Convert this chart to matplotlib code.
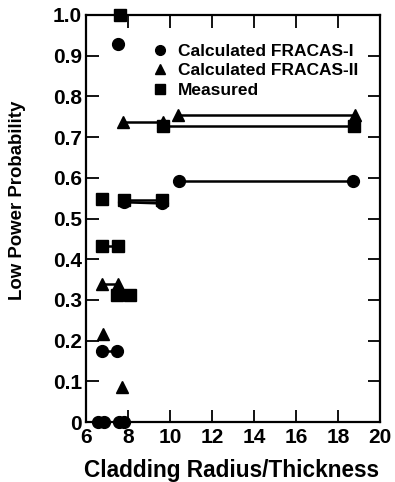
import matplotlib
matplotlib.use('Agg')
import matplotlib.pyplot as plt
from matplotlib.lines import Line2D

plt.rcParams['font.family'] = ['Liberation Sans', 'DejaVu Sans']
plt.rcParams['font.weight'] = 'bold'

# FRACAS-I calculated (circles): lone points, then joined pairs
frac1_x = [7.54, 6.59, 6.85, 7.59, 7.80]
frac1_y = [0.928, 0.0, 0.0, 0.0, 0.0]
frac1_pairs_x = [[7.80, 9.60], [10.44, 18.70], [6.75, 7.49]]
frac1_pairs_y = [[0.540, 0.537], [0.593, 0.593], [0.174, 0.174]]

# FRACAS-II calculated (triangles)
frac2_x = [6.79, 7.70]
frac2_y = [0.216, 0.087]
frac2_pairs_x = [[7.78, 9.68], [10.40, 18.80], [6.75, 7.54]]
frac2_pairs_y = [[0.738, 0.738], [0.754, 0.754], [0.338, 0.338]]

# measured (squares)
meas_x = [7.62, 6.75]
meas_y = [1.0, 0.547]
meas_pairs_x = [[7.80, 9.63], [9.65, 18.76], [6.75, 7.54], [7.46, 8.10]]
meas_pairs_y = [[0.545, 0.545], [0.727, 0.727], [0.432, 0.432], [0.313, 0.313]]

xticks = [6, 8, 10, 12, 14, 16, 18, 20]
yticks = [0, 0.1, 0.2, 0.3, 0.4, 0.5, 0.6, 0.7, 0.8, 0.9, 1.0]
ytick_labels = ['0', '0.1', '0.2', '0.3', '0.4', '0.5', '0.6', '0.7', '0.8', '0.9', '1.0']

W, H = 395, 482
fig = plt.figure(figsize=(W/100, H/100), dpi=100)
ax = fig.add_axes([86/W, 60/H, 294/W, 407/H])

ms = 8.5
series = [
    (frac1_x, frac1_y, frac1_pairs_x, frac1_pairs_y, 'o', 'Calculated FRACAS-I'),
    (frac2_x, frac2_y, frac2_pairs_x, frac2_pairs_y, '^', 'Calculated FRACAS-II'),
    (meas_x, meas_y, meas_pairs_x, meas_pairs_y, 's', 'Measured'),
]
handles = []
for px, py, sx, sy, mk, name in series:
    for xx, yy in zip(sx, sy):
        ax.plot(xx, yy, color='black', lw=1.8, marker=mk, ms=ms, clip_on=False)
    ax.plot(px, py, ls='none', color='black', marker=mk, ms=ms, clip_on=False)
    handles.append(Line2D([], [], ls='none', color='black', marker=mk, ms=7, label=name))

ax.set_xlim(6, 20)
ax.set_ylim(0, 1.0)
ax.set_xticks(xticks)
ax.set_yticks(yticks)
ax.set_yticklabels(ytick_labels)
ax.tick_params(direction='in', length=9, width=1.3, labelsize=15,
               top=True, right=True)
ax.tick_params(axis='y', pad=3)
ax.tick_params(axis='x', pad=4)
for s in ax.spines.values():
    s.set_linewidth(1.6)

# axis titles placed in figure pixels to follow the original layout
fig.text(231/W, 1 - 477/H, 'Cladding Radius/Thickness', fontsize=16.3,
         fontweight='bold', ha='center', va='baseline')
fig.text(18/W, 1 - 200/H, 'Low Power Probability', fontsize=13.4,
         fontweight='bold', ha='center', va='center', rotation=90)

ax.legend(handles=handles, loc='upper left', bbox_to_anchor=(0.2, 0.947),
          frameon=False, fontsize=12.5, handlelength=1.0, handletextpad=0.5,
          labelspacing=0.25, borderaxespad=0)

fig.savefig('out.png', dpi=100)
